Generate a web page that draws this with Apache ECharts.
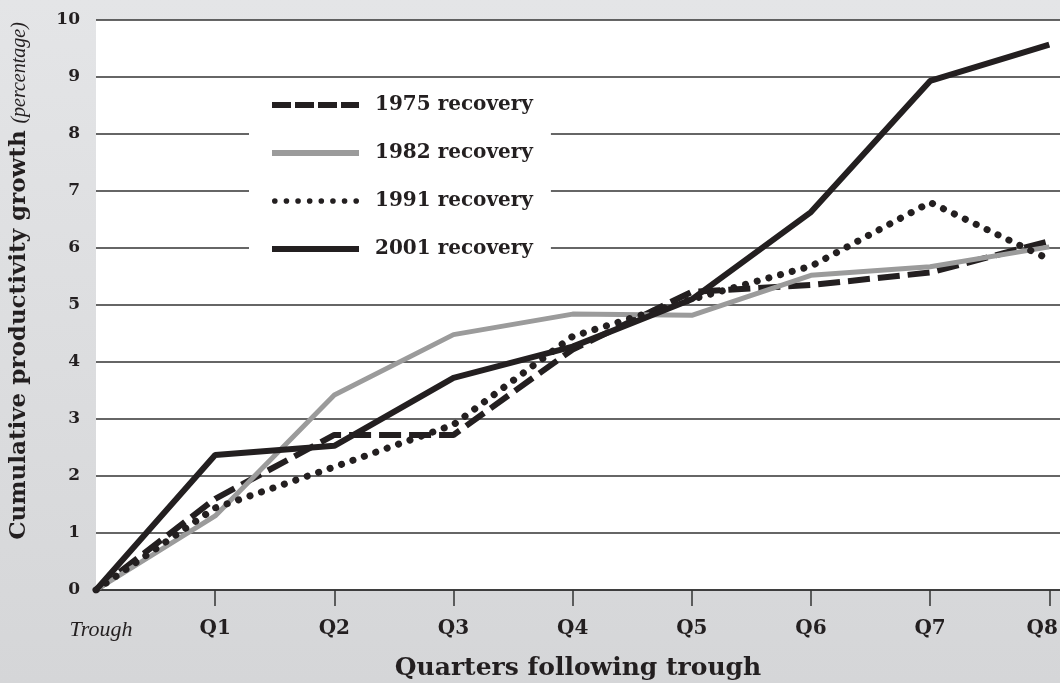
<!DOCTYPE html>
<html>
<head>
<meta charset="utf-8">
<script src="https://cdn.jsdelivr.net/npm/echarts@6/dist/echarts.min.js"></script>
<style>
  html, body { margin: 0; padding: 0; }
  #chart { width: 1060px; height: 683px; }
</style>
</head>
<body>
<div id="chart"></div>
<script>
// quarters after the recession trough
const quarters = ['Trough', 'Q1', 'Q2', 'Q3', 'Q4', 'Q5', 'Q6', 'Q7', 'Q8'];
const yTicks = [0, 1, 2, 3, 4, 5, 6, 7, 8, 9, 10];

// cumulative productivity growth, percent
const rec1975 = [0, 1.6, 2.72, 2.72, 4.22, 5.23, 5.35, 5.57, 6.12];
const rec1982 = [0, 1.3, 3.42, 4.48, 4.84, 4.82, 5.52, 5.67, 6.02];
const rec1991 = [0, 1.44, 2.16, 2.9, 4.45, 5.1, 5.68, 6.8, 5.8];
const rec2001 = [0, 2.37, 2.53, 3.72, 4.27, 5.1, 6.63, 8.93, 9.57];

const BLACK = '#231f20';
const GREY = '#9b9b9b';
const SERIF = '"DejaVu Serif", serif';
const TIMES = '"Liberation Serif", serif';

// legend swatches drawn in an 87x6 box
const ICON_DASH = 'path://M0 0h19v6H0z M23 0h19v6H23z M46 0h19v6H46z M69 0h18v6H69z';
let dots = '';
for (let k = 0; k < 8; k++) {
  const cx = 3 + k * 11.57;
  dots += 'M' + (cx - 2.8) + ' 3a2.8 2.8 0 1 0 5.6 0a2.8 2.8 0 1 0 -5.6 0z ';
}
const ICON_DOT = 'path://' + dots;

const chart = echarts.init(document.getElementById('chart'));

function pts(arr) {
  return arr.map((v, i) => [i, v]);
}

chart.setOption({
  animation: false,
  backgroundColor: new echarts.graphic.LinearGradient(0, 0, 0, 1, [
    { offset: 0, color: '#e4e5e7' },
    { offset: 1, color: '#d5d6d8' }
  ]),
  grid: {
    left: 96, right: 0, top: 20, bottom: 93,
    outerBoundsMode: 'none',
    containLabel: false,
    show: true, backgroundColor: '#fff', borderWidth: 0
  },
  legend: {
    orient: 'vertical',
    left: 249, top: 83,
    backgroundColor: '#fff',
    padding: [10, 18, 10, 23],
    itemWidth: 87,
    itemHeight: 6,
    itemGap: 24,
    textStyle: {
      fontFamily: SERIF, fontWeight: 'bold', fontSize: 20,
      color: BLACK, lineHeight: 24, padding: [0, 0, 0, 11]
    },
    data: [
      { name: '1975 recovery', icon: ICON_DASH },
      { name: '1982 recovery', icon: 'rect' },
      { name: '1991 recovery', icon: ICON_DOT },
      { name: '2001 recovery', icon: 'rect' }
    ]
  },
  xAxis: {
    type: 'value',
    min: 0, max: 8.09,
    name: 'Quarters following trough',
    nameLocation: 'middle',
    nameGap: 66,
    nameMoveOverlap: false,
    nameTextStyle: { fontFamily: SERIF, fontWeight: 'bold', fontSize: 25, color: BLACK },
    axisLine: { show: true, lineStyle: { color: '#333', width: 1.5 } },
    axisTick: {
      show: true, length: 16, inside: false,
      customValues: [1, 2, 3, 4, 5, 6, 7, 8],
      lineStyle: { color: '#333', width: 1.5 }
    },
    axisLabel: {
      customValues: [0, 1, 2, 3, 4, 5, 6, 7, 8],
      margin: 29,
      fontFamily: SERIF, fontWeight: 'bold', fontSize: 20, color: BLACK,
      formatter: v => {
        if (v === 0) return '{it|' + quarters[0] + '}';
        if (v === quarters.length - 1) return '{last|' + quarters[v] + '}';
        return quarters[v];
      },
      rich: {
        it: {
          fontFamily: TIMES, fontStyle: 'italic', fontWeight: 'normal',
          fontSize: 22, color: BLACK, padding: [0, 0, 0, 10]
        },
        last: {
          fontFamily: SERIF, fontWeight: 'bold', fontSize: 20, color: BLACK,
          padding: [0, 14, 0, 0]
        }
      }
    },
    splitLine: { show: false }
  },
  yAxis: {
    type: 'value',
    min: yTicks[0], max: yTicks[yTicks.length - 1], interval: 1,
    name: '{b|Cumulative productivity growth}  {i|(percentage)}',
    nameLocation: 'middle',
    nameGap: 65,
    nameMoveOverlap: false,
    nameTextStyle: {
      padding: [0, 0, 0, 48],
      rich: {
        b: { fontFamily: SERIF, fontWeight: 'bold', fontSize: 23, color: BLACK },
        i: { fontFamily: TIMES, fontStyle: 'italic', fontSize: 20, color: BLACK }
      }
    },
    axisLine: { show: false },
    axisTick: { show: false },
    axisLabel: {
      margin: 16,
      fontFamily: SERIF, fontWeight: 'bold', fontSize: 17, color: BLACK
    },
    splitLine: { lineStyle: { color: '#333', width: 1.5 } }
  },
  series: [
    {
      name: '1975 recovery', type: 'line', symbol: 'none',
      data: pts(rec1975),
      lineStyle: { color: BLACK, width: 6, type: [22, 8] },
      itemStyle: { color: BLACK }
    },
    {
      name: '1982 recovery', type: 'line', symbol: 'none',
      data: pts(rec1982),
      lineStyle: { color: GREY, width: 5 },
      itemStyle: { color: GREY }
    },
    {
      name: '1991 recovery', type: 'line', symbol: 'none',
      data: pts(rec1991),
      lineStyle: { color: BLACK, width: 7, type: [0.1, 12], cap: 'round' },
      itemStyle: { color: BLACK }
    },
    {
      name: '2001 recovery', type: 'line', symbol: 'none',
      data: pts(rec2001),
      lineStyle: { color: BLACK, width: 6 },
      itemStyle: { color: BLACK }
    }
  ]
});
</script>
</body>
</html>
